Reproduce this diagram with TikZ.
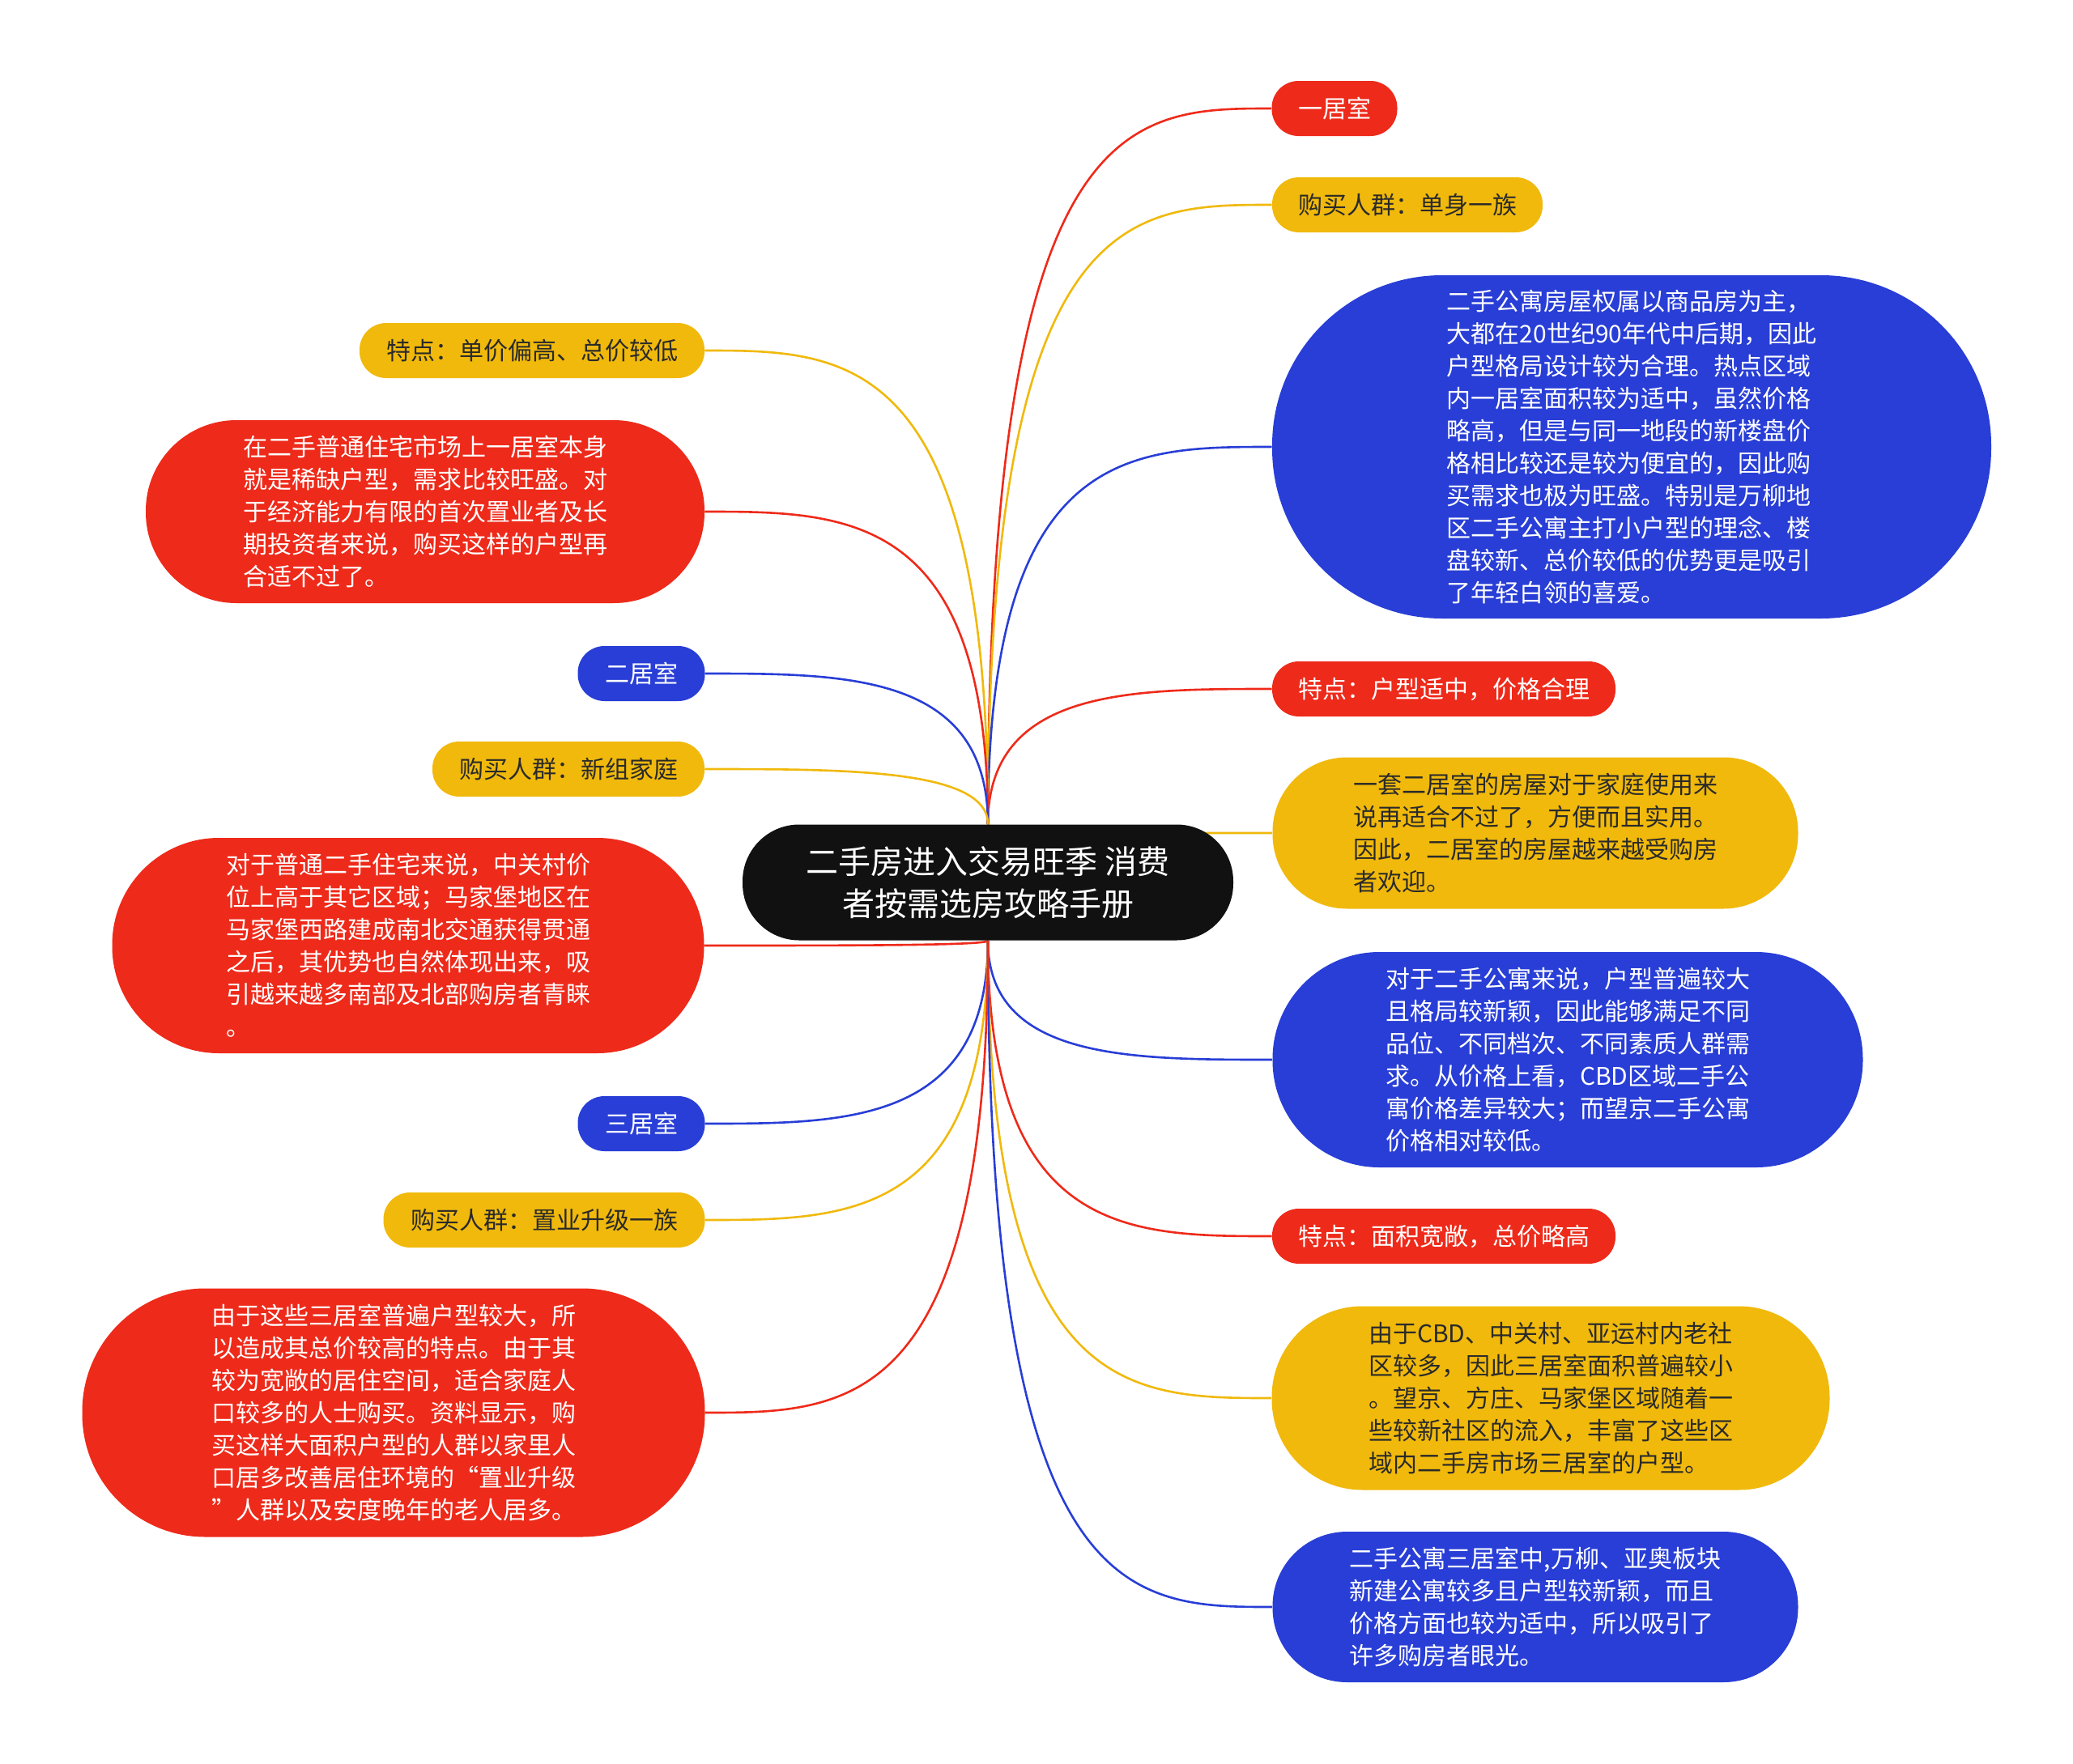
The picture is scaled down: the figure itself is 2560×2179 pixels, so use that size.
\documentclass[tikz,border=0pt]{standalone}
\usepackage{fontspec}
\setmainfont{Noto Sans CJK SC}
\usetikzlibrary{backgrounds,calc}

\definecolor{mmred}{HTML}{EE2A1A}
\definecolor{mmyellow}{HTML}{F0B90C}
\definecolor{mmblue}{HTML}{283ED6}
\definecolor{mmink}{HTML}{2A2A2A}
\definecolor{mmroot}{HTML}{111111}

\tikzset{
  box/.style={rectangle, inner sep=0pt, align=left, font=\fontsize{15pt}{20pt}\selectfont},
  redbox/.style={box, fill=mmred, text=white},
  yellowbox/.style={box, fill=mmyellow, text=mmink},
  bluebox/.style={box, fill=mmblue, text=white},
  tag/.style={minimum height=34pt, rounded corners=16.5pt},
  link/.style={line width=1.3pt},
}

\begin{document}
\begin{tikzpicture}[x=0.5pt,y=-0.5pt]
  \useasboundingbox (0,0) rectangle (2560,2179);

  % central topic
  \node[rectangle, fill=mmroot, text=white, align=center, inner sep=0pt,
        minimum width=303pt, minimum height=71.5pt, rounded corners=35pt,
        font=\fontsize{20pt}{26pt}\selectfont] (root) at (1220,1090)
        {二手房进入交易旺季 消费\\者按需选房攻略手册};

  % right branches
  \node[redbox, tag, minimum width=77.5pt] (r1) at (1648,134) {一居室};
  \node[yellowbox, tag, minimum width=167pt] (r2) at (1738,253) {购买人群：单身一族};
  \node[bluebox, minimum width=444pt, minimum height=212pt, rounded corners=105pt] (r3) at (2015,552)
    {二手公寓房屋权属以商品房为主，\\大都在20世纪90年代中后期，因此\\户型格局设计较为合理。热点区域\\内一居室面积较为适中，虽然价格\\略高，但是与同一地段的新楼盘价\\格相比较还是较为便宜的，因此购\\买需求也极为旺盛。特别是万柳地\\区二手公寓主打小户型的理念、楼\\盘较新、总价较低的优势更是吸引\\了年轻白领的喜爱。};
  \node[redbox, tag, minimum width=212pt] (r4) at (1783,851) {特点：户型适中，价格合理};
  \node[yellowbox, minimum width=324.5pt, minimum height=93.5pt, rounded corners=46pt] (r5) at (1896,1029)
    {一套二居室的房屋对于家庭使用来\\说再适合不过了，方便而且实用。\\因此，二居室的房屋越来越受购房\\者欢迎。};
  \node[bluebox, minimum width=364.5pt, minimum height=133pt, rounded corners=66pt] (r6) at (1936,1309)
    {对于二手公寓来说，户型普遍较大\\且格局较新颖，因此能够满足不同\\品位、不同档次、不同素质人群需\\求。从价格上看，CBD区域二手公\\寓价格差异较大；而望京二手公寓\\价格相对较低。};
  \node[redbox, tag, minimum width=212pt] (r7) at (1783,1527) {特点：面积宽敞，总价略高};
  \node[yellowbox, minimum width=344.5pt, minimum height=113.5pt, rounded corners=56pt] (r8) at (1915,1727)
    {由于CBD、中关村、亚运村内老社\\区较多，因此三居室面积普遍较小\\。望京、方庄、马家堡区域随着一\\些较新社区的流入，丰富了这些区\\域内二手房市场三居室的户型。};
  \node[bluebox, minimum width=324.5pt, minimum height=93pt, rounded corners=46pt] (r9) at (1896,1985)
    {二手公寓三居室中,万柳、亚奥板块\\新建公寓较多且户型较新颖，而且\\价格方面也较为适中，所以吸引了\\许多购房者眼光。};

  % left branches
  \node[yellowbox, tag, minimum width=213pt] (l1) at (657,433) {特点：单价偏高、总价较低};
  \node[redbox, minimum width=345pt, minimum height=113pt, rounded corners=56pt] (l2) at (525,632)
    {在二手普通住宅市场上一居室本身\\就是稀缺户型，需求比较旺盛。对\\于经济能力有限的首次置业者及长\\期投资者来说，购买这样的户型再\\合适不过了。};
  \node[bluebox, tag, minimum width=78.5pt] (l3) at (792,832) {二居室};
  \node[yellowbox, tag, minimum width=168pt] (l4) at (702,950) {购买人群：新组家庭};
  \node[redbox, minimum width=365.5pt, minimum height=133pt, rounded corners=66pt] (l5) at (504,1168)
    {对于普通二手住宅来说，中关村价\\位上高于其它区域；马家堡地区在\\马家堡西路建成南北交通获得贯通\\之后，其优势也自然体现出来，吸\\引越来越多南部及北部购房者青睐\\。};
  \node[bluebox, tag, minimum width=78.5pt] (l6) at (792,1388) {三居室};
  \node[yellowbox, tag, minimum width=198.5pt] (l7) at (672,1507) {购买人群：置业升级一族};
  \node[redbox, minimum width=384.5pt, minimum height=153.5pt, rounded corners=76pt] (l8) at (486,1745)
    {由于这些三居室普遍户型较大，所\\以造成其总价较高的特点。由于其\\较为宽敞的居住空间，适合家庭人\\口较多的人士购买。资料显示，购\\买这样大面积户型的人群以家里人\\口居多改善居住环境的“置业升级\\”人群以及安度晚年的老人居多。};

  % connectors
  \begin{scope}[on background layer]
    \foreach \n/\c/\s in {r1/mmred/north, r2/mmyellow/north, r3/mmblue/north, r4/mmred/north,
                          r5/mmyellow/north, r6/mmblue/south, r7/mmred/south, r8/mmyellow/south,
                          r9/mmblue/south}
      \draw[link, \c] (root.\s) .. controls (root.\s |- \n.west) and ($(root.\s |- \n.west)!0.5!(\n.west)$) .. (\n.west);
    \foreach \n/\c/\s in {l1/mmyellow/north, l2/mmred/north, l3/mmblue/north, l4/mmyellow/north,
                          l5/mmred/south, l6/mmblue/south, l7/mmyellow/south, l8/mmred/south}
      \draw[link, \c] (root.\s) .. controls (root.\s |- \n.east) and ($(root.\s |- \n.east)!0.5!(\n.east)$) .. (\n.east);
  \end{scope}
\end{tikzpicture}
\end{document}
